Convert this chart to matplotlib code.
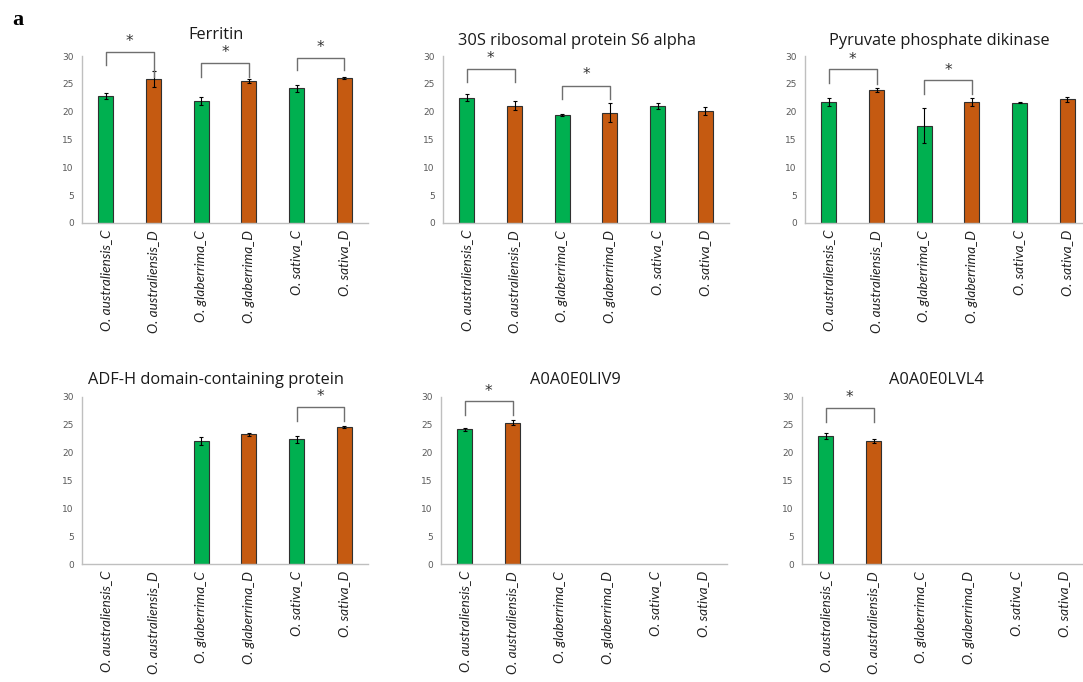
import matplotlib.pyplot as plt
import numpy as np

categories = ["O. australiensis_C", "O. australiensis_D", "O. glaberrima_C",
              "O. glaberrima_D", "O. sativa_C", "O. sativa_D"]
titles = ["Ferritin", "30S ribosomal protein S6 alpha", "Pyruvate phosphate dikinase",
          "ADF-H domain-containing protein", "A0A0E0LIV9", "A0A0E0LVL4"]

nan = np.nan
ferritin_mean = [22.8, 25.9, 21.9, 25.5, 24.2, 26.1]
ferritin_err = [0.5, 1.4, 0.7, 0.3, 0.6, 0.15]
s6_mean = [22.5, 21.1, 19.4, 19.8, 21.0, 20.1]
s6_err = [0.6, 0.8, 0.15, 1.7, 0.5, 0.7]
ppdk_mean = [21.7, 23.9, 17.5, 21.7, 21.6, 22.2]
ppdk_err = [0.7, 0.3, 3.2, 0.7, 0.1, 0.5]
adfh_mean = [nan, nan, 22.1, 23.3, 22.4, 24.6]
adfh_err = [nan, nan, 0.8, 0.3, 0.6, 0.15]
liv9_mean = [24.2, 25.4, nan, nan, nan, nan]
liv9_err = [0.3, 0.5, nan, nan, nan, nan]
lvl4_mean = [23.0, 22.1, nan, nan, nan, nan]
lvl4_err = [0.6, 0.3, nan, nan, nan, nan]

# significance brackets: (left bar, right bar, top, left leg end, right leg end, star y)
ferritin_sig = [(0, 1, 30.8, 28.3, 26.3, 32.6), (2, 3, 28.7, 26.2, 26.2, 30.6),
                (4, 5, 29.6, 27.4, 27.4, 31.6)]
s6_sig = [(0, 1, 27.7, 25.4, 25.4, 29.6), (2, 3, 24.7, 22.3, 22.3, 26.6)]
ppdk_sig = [(0, 1, 27.6, 25.1, 24.9, 29.3), (2, 3, 25.6, 23.1, 23.1, 27.4)]
adfh_sig = [(4, 5, 28.2, 25.7, 25.7, 30.1)]
liv9_sig = [(0, 1, 29.2, 26.8, 26.8, 31.0)]
lvl4_sig = [(0, 1, 28.0, 25.5, 25.5, 29.9)]

means = [ferritin_mean, s6_mean, ppdk_mean, adfh_mean, liv9_mean, lvl4_mean]
errs = [ferritin_err, s6_err, ppdk_err, adfh_err, liv9_err, lvl4_err]
sigs = [ferritin_sig, s6_sig, ppdk_sig, adfh_sig, liv9_sig, lvl4_sig]

colors = ["#00B050", "#C55A11"] * 3

fig = plt.figure(figsize=(10.83, 6.82), dpi=100)
W, H = 1083, 682
# axes boxes in pixels: (left x, top y of 30, y of 0)
boxes = [(82, 56, 223), (443, 56, 223), (805, 56, 223),
         (82, 397, 564), (441, 397, 564), (802, 397, 564)]
title_pads = [12, 8, 8, 9, 9, 9]

x = np.arange(len(categories))
for i in range(6):
    lx, ty, by = boxes[i]
    ax = fig.add_axes([lx / W, 1 - by / H, 286 / W, (by - ty) / H])
    ax.bar(x, means[i], width=0.32, color=colors, edgecolor="#303030", linewidth=0.8)
    ax.errorbar(x, means[i], yerr=errs[i], fmt="none", ecolor="black",
                elinewidth=0.8, capsize=1.5, capthick=0.8)
    ax.set_xlim(-0.5, 5.5)
    ax.set_ylim(0, 30)
    ax.set_yticks(range(0, 31, 5))
    ax.set_xticks(x)
    ax.set_xticklabels(categories, rotation=90, style="italic", fontsize=9.8,
                       family="Lato", color="#222222")
    ax.tick_params(axis="y", labelsize=6.5, labelcolor="#595959", length=0, pad=6)
    ax.tick_params(axis="x", length=0, pad=5)
    for s in ["top", "right"]:
        ax.spines[s].set_visible(False)
    for s in ["left", "bottom"]:
        ax.spines[s].set_color("#bfbfbf")
        ax.spines[s].set_linewidth(1.0)
    ax.set_title(titles[i], fontsize=11.8, family="Open Sans", x=0.469,
                 pad=title_pads[i], color="#1a1a1a")
    for a, b, top, l_end, r_end, sy in sigs[i]:
        ax.plot([a, a, b, b], [l_end, top, top, r_end], color="#6f6f6f",
                linewidth=1.0, clip_on=False)
        ax.text((a + b) / 2, sy, "*", ha="center", va="center", fontsize=11,
                color="#333333", clip_on=False)

fig.text(12 / W, 1 - 20 / H, "a", fontsize=16, fontweight="bold",
         family="Liberation Serif", va="center")

fig.savefig("out.png", dpi=100)
